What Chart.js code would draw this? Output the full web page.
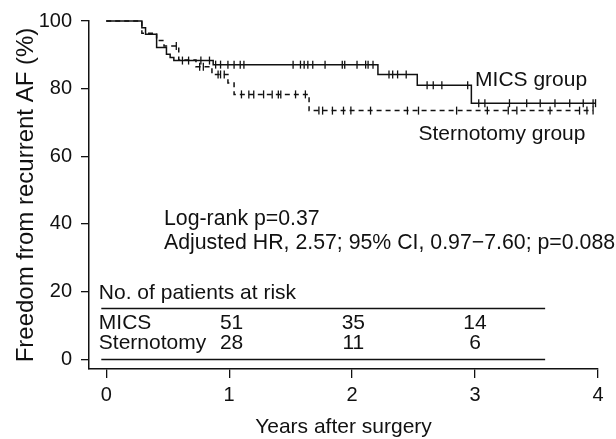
<!DOCTYPE html>
<html>
<head>
<meta charset="utf-8">
<script src="https://cdn.jsdelivr.net/npm/chart.js@4/dist/chart.umd.min.js"></script>
<style>
  html, body { margin: 0; padding: 0; background: #fff; }
  #wrap { width: 616px; height: 439px; }
</style>
</head>
<body>
<div id="wrap"><canvas id="c" width="616" height="439"></canvas></div>
<script>
// Kaplan-Meier step data (years, % free from recurrent AF)
const micsTimes = [0, 0.29, 0.32, 0.41, 0.49, 0.52, 0.55, 0.87, 2.21, 2.53, 2.97, 3.98];
const micsSurv  = [100, 98.0, 96.1, 92.2, 90.2, 89.2, 88.3, 87.1, 84.2, 81.0, 75.7, 75.7];
const sternTimes = [0, 0.29, 0.41, 0.47, 0.59, 0.73, 0.86, 0.99, 1.04, 1.65, 3.96];
const sternSurv  = [100, 96.4, 94.2, 92.6, 88.5, 86.5, 84.2, 81.7, 78.3, 73.5, 73.5];

// censoring times
const micsCensor = [0.62, 0.67, 0.77, 0.84, 0.89, 0.93, 0.99, 1.04, 1.09, 1.12, 1.52, 1.58, 1.61, 1.64, 1.68, 1.78, 1.92, 1.94, 2.04, 2.11, 2.13, 2.17, 2.30, 2.33, 2.37, 2.44, 2.61, 2.66, 2.73, 2.94, 3.03, 3.08, 3.28, 3.42, 3.53, 3.65, 3.77, 3.88, 3.96, 3.98];
const sternCensor = [0.57, 0.76, 0.79, 0.91, 0.93, 0.96, 1.10, 1.16, 1.20, 1.28, 1.35, 1.40, 1.42, 1.54, 1.62, 1.73, 1.76, 1.84, 1.93, 1.99, 2.15, 2.45, 2.54, 2.85, 3.10, 3.27, 3.34, 3.61, 3.85, 3.91, 3.96];

// axes
const xTickValues = [0, 1, 2, 3, 4];
const yTickValues = [0, 20, 40, 60, 80, 100];

// risk table
const riskCols = [1.02, 2.01, 3.0];
const riskMics = [51, 35, 14];
const riskStern = [28, 11, 6];

const labelMics = 'MICS group';
const labelStern = 'Sternotomy group';
const statLine1 = 'Log-rank p=0.37';
const statLine2 = 'Adjusted HR, 2.57; 95% CI, 0.97\u22127.60; p=0.088';

function levelAt(times, surv, t) {
  let v = surv[0];
  for (let i = 0; i < times.length; i++) { if (times[i] <= t) v = surv[i]; }
  return v;
}
const toPts = (ts, ss) => ts.map((t, i) => ({x: t, y: ss[i]}));
const censorPts = (cs, ts, ss) => cs.map(t => ({x: t, y: levelAt(ts, ss, t)}));

const FONT = '"Liberation Sans", Arial, Helvetica, sans-serif';
const INK = '#111';

const overlay = {
  id: 'overlay',
  afterDatasetsDraw(chart) {
    const {ctx, scales: {x, y}} = chart;
    ctx.save();
    ctx.fillStyle = INK;
    ctx.strokeStyle = INK;
    ctx.font = '21px ' + FONT;
    ctx.textBaseline = 'middle';
    ctx.textAlign = 'left';
    ctx.fillText(labelMics, x.getPixelForValue(3.0), y.getPixelForValue(82.5));
    ctx.fillText(labelStern, x.getPixelForValue(2.54), y.getPixelForValue(66.5));
    ctx.font = '21.3px ' + FONT;
    ctx.fillText(statLine1, x.getPixelForValue(0.47), y.getPixelForValue(41.4));
    ctx.fillText(statLine2, x.getPixelForValue(0.47), y.getPixelForValue(34.4));
    // risk table
    ctx.font = '21px ' + FONT;
    ctx.fillText('No. of patients at risk', x.getPixelForValue(-0.06), y.getPixelForValue(19.6));
    ctx.fillText('MICS', x.getPixelForValue(-0.06), y.getPixelForValue(10.5));
    ctx.fillText('Sternotomy', x.getPixelForValue(-0.06), y.getPixelForValue(4.6));
    ctx.textAlign = 'center';
    riskCols.forEach((c, i) => {
      ctx.fillText(String(riskMics[i]), x.getPixelForValue(c), y.getPixelForValue(10.5));
      ctx.fillText(String(riskStern[i]), x.getPixelForValue(c), y.getPixelForValue(4.6));
    });
    ctx.lineWidth = 1.3;
    [15.2, 0].forEach(v => {
      const py = Math.round(y.getPixelForValue(v)) + 0.5;
      ctx.beginPath();
      ctx.moveTo(x.getPixelForValue(-0.04), py);
      ctx.lineTo(x.getPixelForValue(3.57), py);
      ctx.stroke();
    });
    ctx.restore();
  }
};

new Chart(document.getElementById('c'), {
  type: 'line',
  data: {
    datasets: [
      { label: 'MICS', data: toPts(micsTimes, micsSurv), stepped: true, borderColor: INK, borderWidth: 1.5, pointRadius: 0, fill: false, clip: false },
      { label: 'Sternotomy', data: toPts(sternTimes, sternSurv), stepped: true, borderColor: INK, borderWidth: 1.5, borderDash: [5, 4], pointRadius: 0, fill: false, clip: false },
      { type: 'scatter', label: 'MICS censored', data: censorPts(micsCensor, micsTimes, micsSurv), showLine: false, pointStyle: 'line', rotation: 90, pointRadius: 4, borderColor: INK, borderWidth: 1.3, clip: false },
      { type: 'scatter', label: 'Sternotomy censored', data: censorPts(sternCensor, sternTimes, sternSurv), showLine: false, pointStyle: 'line', rotation: 90, pointRadius: 4, borderColor: INK, borderWidth: 1.3, clip: false }
    ]
  },
  options: {
    responsive: false,
    animation: false,
    events: [],
    layout: { padding: { top: 16, right: 18, left: 0, bottom: 0 } },
    plugins: { legend: { display: false }, tooltip: { enabled: false } },
    scales: {
      x: {
        type: 'linear', min: -0.14, max: 4,
        afterBuildTicks: s => { s.ticks = xTickValues.map(v => ({value: v})); },
        afterFit: s => { s.height = 70; },
        grid: { display: true, drawOnChartArea: false, drawTicks: true, tickLength: 9, color: INK, lineWidth: 1.3 },
        border: { display: true, color: INK, width: 1.5 },
        ticks: { color: INK, font: { family: FONT, size: 20 }, padding: 5, maxRotation: 0, autoSkip: false, callback: v => String(v) },
        title: { display: true, text: 'Years after surgery', color: INK, font: { family: FONT, size: 21, lineHeight: 1.0 }, padding: { top: 0, bottom: 1 } }
      },
      y: {
        type: 'linear', min: -2.9, max: 100,
        afterBuildTicks: s => { s.ticks = yTickValues.map(v => ({value: v})); },
        afterFit: s => { s.width = 89; },
        grid: { display: true, drawOnChartArea: false, drawTicks: true, tickLength: 8, color: INK, lineWidth: 1.3 },
        border: { display: true, color: INK, width: 1.5 },
        ticks: { color: INK, font: { family: FONT, size: 20 }, padding: 9, autoSkip: false, callback: v => String(v) },
        title: { display: true, text: 'Freedom from recurrent AF (%)', color: INK, font: { family: FONT, size: 24, lineHeight: 1.2 }, padding: { top: 12, bottom: 0 } }
      }
    }
  },
  plugins: [overlay]
});
</script>
</body>
</html>
